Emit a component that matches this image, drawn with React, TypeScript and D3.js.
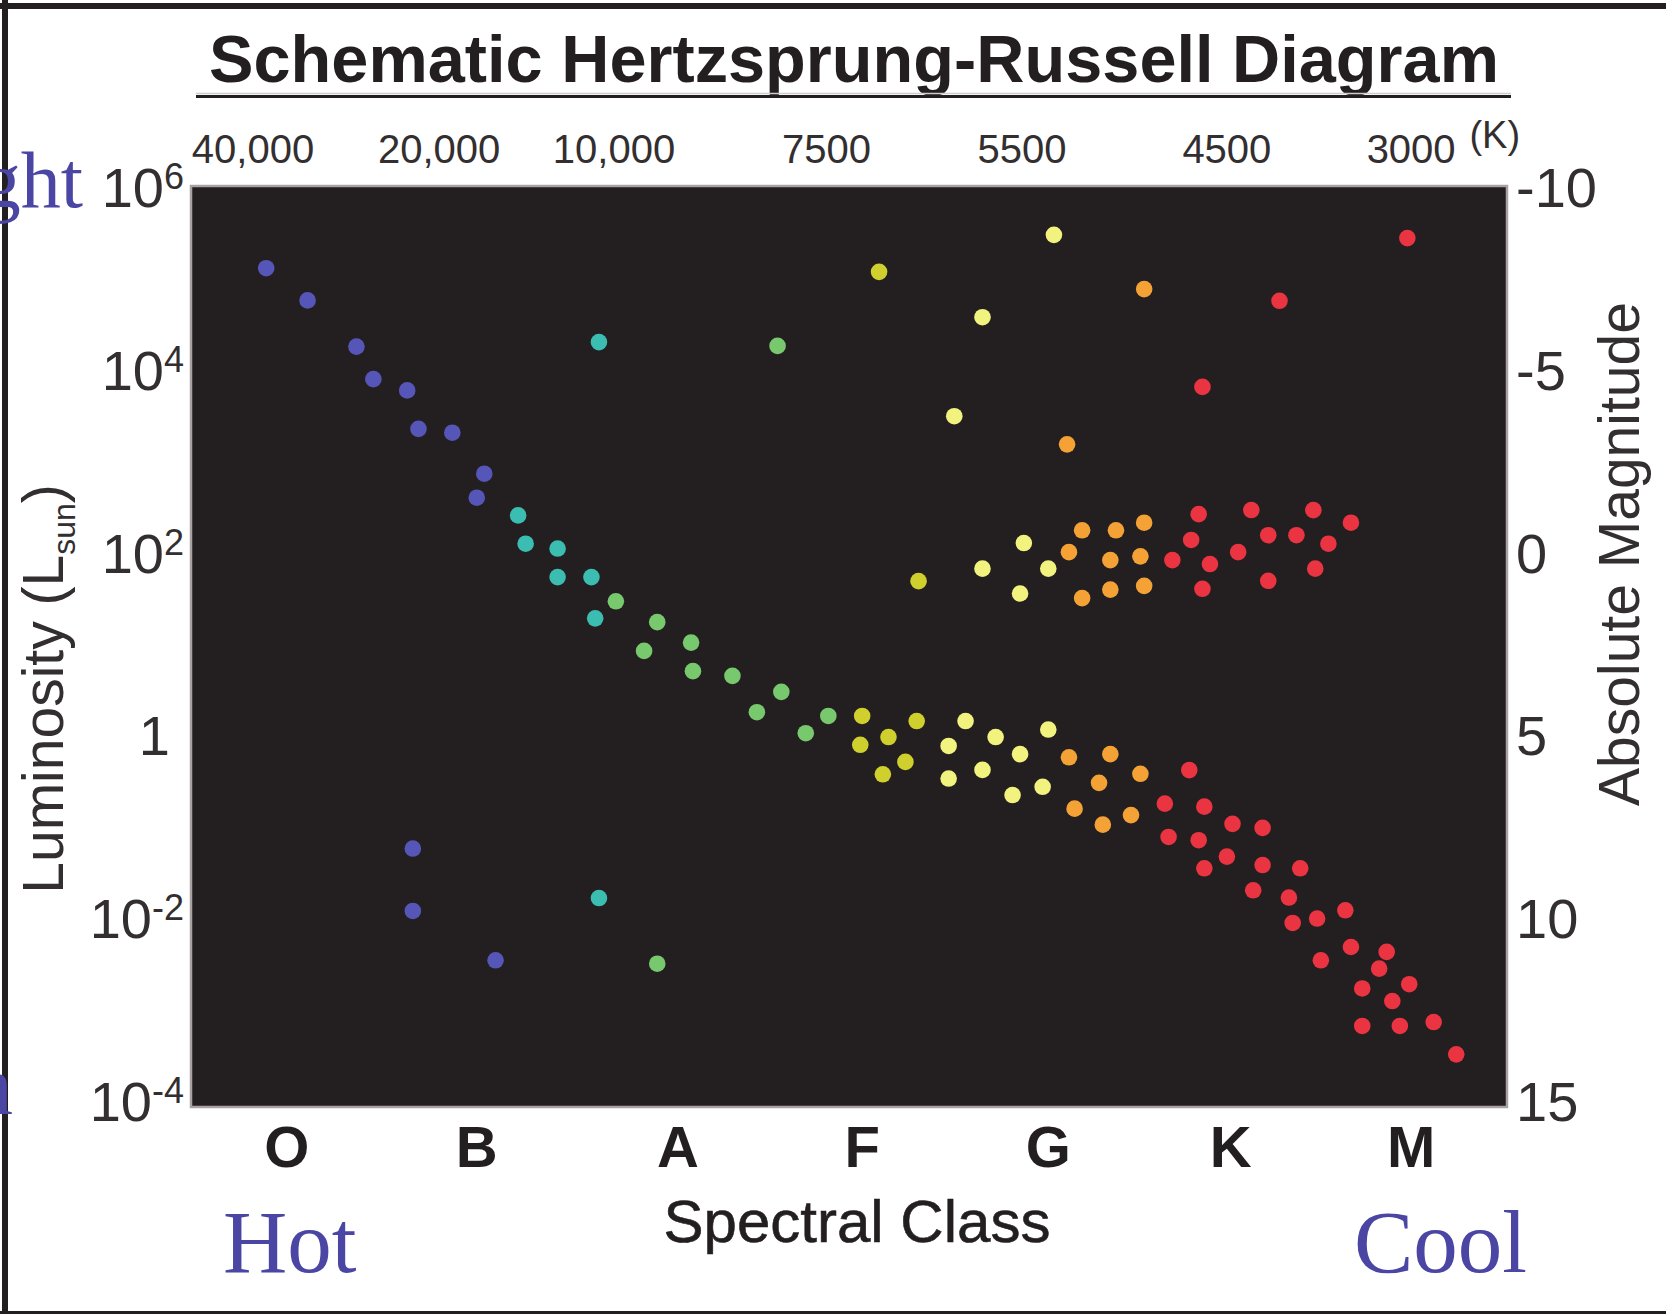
import * as d3 from "d3";

// spectral class letters and where they sit on the spectral axis (class units)
const spectralClasses = ["O", "B", "A", "F", "G", "K", "M"];
const spectralClassPos = [0.01, 1.02, 2.09, 3.07, 4.06, 5.03, 5.99];

// temperature labels along the top
const temperatureLabels = ["40,000", "20,000", "10,000", "7500", "5500", "4500", "3000"];
const temperaturePos = [-0.17, 0.82, 1.75, 2.88, 3.92, 5.01, 5.99];
const temperatureUnitPos = 6.3;

const luminosityTicks = [1e6, 1e4, 1e2, 1, 1e-2, 1e-4];
const magnitudeTicks = [-10, -5, 0, 5, 10, 15];

// stars: [spectral position, luminosity in L_sun]
const blueStars = [
  [-0.1, 1.26e5], [0.12, 5.6e4], [0.38, 1.75e4], [0.47, 7.7e3], [0.65, 5.8e3],
  [0.71, 2.2e3], [0.89, 2.0e3], [1.06, 711], [1.02, 389],
  [0.68, 0.0564], [0.68, 0.0117], [1.12, 0.00338],
];
const cyanStars = [
  [1.67, 1.96e4], [1.24, 249], [1.28, 122], [1.45, 108], [1.45, 52.6],
  [1.63, 52.6], [1.65, 18.6], [1.67, 0.0162],
];
const greenStars = [
  [2.62, 1.78e4], [1.76, 28.6], [1.98, 16.9], [2.16, 10.1], [1.91, 8.2],
  [2.17, 4.92], [2.38, 4.37], [2.64, 2.92], [2.51, 1.75], [2.77, 1.03],
  [2.89, 1.59], [1.98, 0.0031],
];
const oliveStars = [
  [3.16, 1.15e5], [3.37, 47.5], [3.07, 1.59], [3.06, 0.77], [3.36, 1.4],
  [3.21, 0.935], [3.3, 0.5], [3.18, 0.366],
];
const paleYellowStars = [
  [4.09, 2.92e5], [3.71, 3.67e4], [3.56, 3.03e3], [3.71, 65.2], [3.93, 124],
  [4.06, 65.2], [3.91, 34.8], [3.62, 1.4], [3.53, 0.748], [3.78, 0.935],
  [4.06, 1.13], [3.91, 0.608], [3.71, 0.409], [3.53, 0.329], [3.87, 0.217],
  [4.03, 0.267],
];
const orangeStars = [
  [4.57, 7.45e4], [4.16, 1.49e3], [4.24, 171], [4.17, 98.6], [4.42, 171],
  [4.57, 207], [4.39, 80.7], [4.55, 88.7], [4.24, 31.0], [4.39, 38.4],
  [4.57, 42.2], [4.17, 0.562], [4.39, 0.608], [4.55, 0.371], [4.33, 0.295],
  [4.2, 0.154], [4.35, 0.103], [4.5, 0.131],
];
const redStars = [
  [5.97, 2.69e5], [5.29, 5.55e4], [4.88, 6.34e3],
  [4.86, 257], [4.82, 134], [4.72, 80.7], [4.92, 73.1], [4.88, 39.2],
  [5.14, 285], [5.07, 98.6], [5.23, 151], [5.23, 47.9], [5.38, 151],
  [5.47, 284], [5.55, 122], [5.48, 65.2], [5.67, 207],
  [4.81, 0.407], [4.68, 0.175], [4.89, 0.162], [5.04, 0.105], [5.2, 0.0948],
  [4.7, 0.0755], [4.86, 0.0695], [5.01, 0.046], [4.89, 0.0343], [5.2, 0.0372],
  [5.4, 0.0343], [5.15, 0.0197], [5.34, 0.0164], [5.64, 0.0119], [5.36, 0.00865],
  [5.49, 0.00966], [5.67, 0.00472], [5.86, 0.00417], [5.51, 0.00338],
  [5.82, 0.00274], [5.98, 0.00185], [5.73, 0.00166], [5.89, 0.00121],
  [5.73, 0.000646], [5.93, 0.000646], [6.11, 0.000713], [6.23, 0.000316],
];

const series = [
  { stars: blueStars, color: "#5656b8" },
  { stars: cyanStars, color: "#3cbdb2" },
  { stars: greenStars, color: "#78c86e" },
  { stars: oliveStars, color: "#cfcf2e" },
  { stars: paleYellowStars, color: "#f2f27e" },
  { stars: orangeStars, color: "#f4a236" },
  { stars: redStars, color: "#ea3442" },
];

const width = 1666;
const height = 1314;
const plot = { left: 191, right: 1507, top: 186, bottom: 1107, lastTick: 1100 };

const ink = "#231f20";
const label = "#332e2f";
const blueText = "#4b45a3";
const sans = "'Liberation Sans', Arial, Helvetica, sans-serif";
const serif = "'Liberation Serif', 'Times New Roman', serif";

export default function App() {
  const x = d3.scaleLinear().domain([-0.5, 6.5]).range([plot.left, plot.right]);
  const y = d3.scaleLog().domain([1e-4, 1e6]).range([plot.lastTick, plot.top]);
  const mag = d3.scaleLinear().domain([-10, 15]).range([plot.top, plot.lastTick]);

  return (
    <svg
      width={width}
      height={height}
      viewBox={`0 0 ${width} ${height}`}
      style={{ position: "absolute", left: 0, top: 0, background: "#fff" }}
    >
      {/* outer frame */}
      <line x1={5} y1={0} x2={5} y2={height} stroke={ink} strokeWidth={6} />
      <line x1={0} y1={6} x2={width} y2={6} stroke={ink} strokeWidth={6} />
      <line x1={0} y1={1312.5} x2={width} y2={1312.5} stroke={ink} strokeWidth={3} />

      {/* title */}
      <text x={209} y={82} fontFamily={sans} fontWeight="bold" fontSize={67} fill={ink}
        textLength={1290} lengthAdjust="spacingAndGlyphs">
        Schematic Hertzsprung-Russell Diagram
      </text>
      <line x1={196} x2={1511} y1={93.5} y2={93.5} stroke="#d0cccc" strokeWidth={1.5} />
      <line x1={196} x2={1511} y1={96.5} y2={96.5} stroke={ink} strokeWidth={3} />

      {/* temperature labels */}
      {temperatureLabels.map((t, i) => (
        <text key={t} x={x(temperaturePos[i])} y={163} textAnchor="middle"
          fontFamily={sans} fontSize={40} fill={label}>
          {t}
        </text>
      ))}
      <text x={x(temperatureUnitPos)} y={148} fontFamily={sans} fontSize={38} fill={label}>
        (K)
      </text>

      {/* plot area */}
      <rect x={plot.left} y={plot.top} width={plot.right - plot.left}
        height={plot.bottom - plot.top} fill={ink} stroke="#aaa2a2" strokeWidth={2.5} />

      {series.map((s, si) => (
        <g key={si} fill={s.color}>
          {s.stars.map((d, i) => (
            <circle key={i} cx={x(d[0])} cy={y(d[1])} r={8.3} />
          ))}
        </g>
      ))}

      {/* left axis: luminosity */}
      {luminosityTicks.map((v) => {
        const e = Math.round(Math.log10(v));
        const ty = y(v);
        if (e === 0) {
          return (
            <text key={v} x={170} y={ty + 21} textAnchor="end" fontFamily={sans}
              fontSize={56} fill={label}>1</text>
          );
        }
        return (
          <text key={v} x={184} y={ty + 21} textAnchor="end" fontFamily={sans}
            fontSize={56} fill={label}>
            10
            <tspan dy={-18} fontSize={36}>{e < 0 ? `-${-e}` : e}</tspan>
          </text>
        );
      })}
      <text transform="translate(63,689) rotate(-90)" textAnchor="middle"
        fontFamily={sans} fontSize={57} fill={label}>
        Luminosity (L
        <tspan dy={12} fontSize={32}>sun</tspan>
        <tspan dy={-12}>)</tspan>
      </text>

      {/* right axis: absolute magnitude */}
      {magnitudeTicks.map((m) => (
        <text key={m} x={1516} y={mag(m) + 21} fontFamily={sans} fontSize={56} fill={label}>
          {m < 0 ? `-${-m}` : m}
        </text>
      ))}
      <text transform="translate(1639,554) rotate(-90)" textAnchor="middle"
        fontFamily={sans} fontSize={57} fill={label}>
        Absolute Magnitude
      </text>

      {/* bottom axis: spectral class */}
      {spectralClasses.map((c, i) => (
        <text key={c} x={x(spectralClassPos[i])} y={1167} textAnchor="middle"
          fontFamily={sans} fontWeight="bold" fontSize={58} fill={ink}>
          {c}
        </text>
      ))}
      <text x={857} y={1242} textAnchor="middle" fontFamily={sans} fontSize={60}
        fill={ink} stroke={ink} strokeWidth={0.6}>
        Spectral Class
      </text>

      {/* side annotations, partly cut by the page edge as in the original slide */}
      <text x={223} y={1272} fontFamily={serif} fontSize={89} fill={blueText}>Hot</text>
      <text x={1354} y={1272} fontFamily={serif} fontSize={89} fill={blueText}>Cool</text>
      <text x={83} y={207} textAnchor="end" fontFamily={serif} fontSize={80} fill={blueText}>
        Bright
      </text>
      <text x={13} y={1114} textAnchor="end" fontFamily={serif} fontSize={85} fill={blueText}>
        Dim
      </text>
    </svg>
  );
}
